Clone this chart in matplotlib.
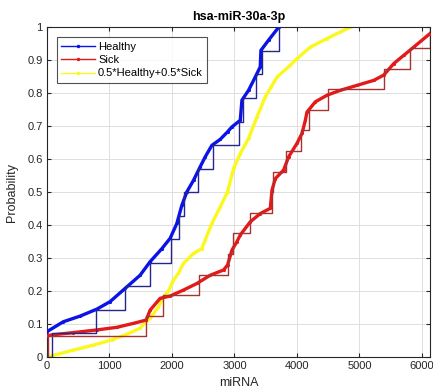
import numpy as np
import matplotlib
matplotlib.use("Agg")
import matplotlib.pyplot as plt
from matplotlib.lines import Line2D

# ---- data ----
healthy_samples = [75, 785, 1255, 1650, 1982, 2105, 2200, 2420, 2650, 3080, 3136, 3338, 3440, 3707]
sick_samples = [15, 1587, 1854, 2436, 2890, 2970, 3243, 3606, 3615, 3830, 4071, 4188, 4492, 5400, 5817, 6130]

healthy_x = [0, 262, 529, 796, 1010, 1250, 1490, 1650, 1840, 1971, 2078, 2158, 2239, 2345, 2452,
             2532, 2639, 2772, 2890, 2960, 3093, 3120, 3226, 3333, 3413, 3424, 3546, 3707]
healthy_y = [0.077, 0.107, 0.124, 0.145, 0.168, 0.208, 0.248, 0.289, 0.329, 0.360, 0.405, 0.460, 0.501, 0.536, 0.577,
             0.607, 0.642, 0.660, 0.683, 0.698, 0.718, 0.779, 0.809, 0.849, 0.880, 0.930, 0.961, 1.0]

sick_x = [0, 75, 421, 796, 1117, 1383, 1587, 1650, 1811, 1971, 2184, 2399, 2612, 2826, 2890, 2960, 3040,
          3093, 3253, 3413, 3574, 3601, 3654, 3787, 3867, 4001, 4081, 4135, 4161, 4295, 4482, 4696,
          4963, 5229, 5389, 5550, 5710, 5870, 6130]
sick_y = [0.064, 0.067, 0.074, 0.082, 0.090, 0.102, 0.112, 0.142, 0.178, 0.185, 0.203, 0.223, 0.248, 0.264, 0.279, 0.324, 0.350,
          0.370, 0.410, 0.435, 0.451, 0.506, 0.541, 0.567, 0.607, 0.648, 0.678, 0.718, 0.743, 0.774, 0.794, 0.809,
          0.824, 0.839, 0.855, 0.890, 0.915, 0.940, 0.981]

mix_x = [0, 421, 742, 1036, 1250, 1490, 1597, 1650, 1784, 1864, 1944, 2024, 2104, 2184, 2345, 2479, 2532,
         2639, 2772, 2890, 2986, 3093, 3226, 3360, 3494, 3681, 3894, 4001, 4215, 4482, 4696, 4856]
mix_y = [0.0, 0.021, 0.036, 0.052, 0.067, 0.087, 0.110, 0.117, 0.152, 0.183, 0.200, 0.233, 0.254, 0.284, 0.314, 0.329, 0.355,
         0.405, 0.455, 0.501, 0.572, 0.617, 0.663, 0.728, 0.789, 0.849, 0.885, 0.905, 0.940, 0.966, 0.986, 1.0]

labels = ["Healthy", "Sick", "0.5*Healthy+0.5*Sick"]
title = "hsa-miR-30a-3p"
xlabel = "miRNA"
ylabel = "Probability"
xticks = [0, 1000, 2000, 3000, 4000, 5000, 6000]
yticks = [0, 0.1, 0.2, 0.3, 0.4, 0.5, 0.6, 0.7, 0.8, 0.9, 1.0]
ytick_labels = ["0", "0.1", "0.2", "0.3", "0.4", "0.5", "0.6", "0.7", "0.8", "0.9", "1"]

plt.rcParams['font.family'] = ['Liberation Sans', 'DejaVu Sans']

fig = plt.figure(figsize=(4.33, 3.92), dpi=100)
ax = fig.add_axes([47/433, 35/392, (430-47)/433, (357-27.3)/392])

blue = "#0a14e6"
red = "#e41a1a"
yellow = "#fbf820"

ax.plot(healthy_x, healthy_y, color=blue, lw=2.4, marker='.', ms=2.5, zorder=3)
ax.plot(sick_x, sick_y, color=red, lw=2.4, marker='.', ms=2.5, zorder=3)
ax.plot(mix_x, mix_y, color=yellow, lw=2.4, marker='.', ms=2.5, zorder=2)

nh = len(healthy_samples)
ns = len(sick_samples)
ax.step([0] + healthy_samples, [0] + [(i + 1) / nh for i in range(nh)], where='post',
        color="#26268f", lw=1.0, zorder=4)
ax.step([0] + sick_samples, [0] + [(i + 1) / ns for i in range(ns)], where='post',
        color="#a83232", lw=1.0, zorder=4)

ax.set_xlim(0, 6130)
ax.set_ylim(0, 1)
ax.set_xticks(xticks)
ax.set_xticklabels([str(t) for t in xticks])
ax.set_yticks(yticks)
ax.set_yticklabels(ytick_labels)
ax.grid(True, color="#dedede", lw=0.7)
ax.set_axisbelow(True)
ax.tick_params(direction='in', length=3, labelsize=8, colors="#262626", top=True, right=True,
               pad=3)
for s in ax.spines.values():
    s.set_color("#262626")
    s.set_linewidth(0.8)

ax.set_title(title, fontsize=9, fontweight='bold', pad=5)
ax.set_xlabel(xlabel, fontsize=9, labelpad=4, color="#262626")
ax.set_ylabel(ylabel, fontsize=9, labelpad=7, color="#262626")

handles = [Line2D([], [], color=blue, lw=1.0, marker='.', ms=3),
           Line2D([], [], color=red, lw=1.0, marker='.', ms=3),
           Line2D([], [], color=yellow, lw=1.0, marker='.', ms=3)]
leg = ax.legend(handles, labels, loc='upper left', fontsize=8, frameon=True, fancybox=False,
                edgecolor="#262626", borderpad=0.4, labelspacing=0.3, handlelength=3.0,
                handletextpad=0.3, borderaxespad=0.9)
leg.get_frame().set_linewidth(0.8)

fig.savefig("out.png", dpi=100)
